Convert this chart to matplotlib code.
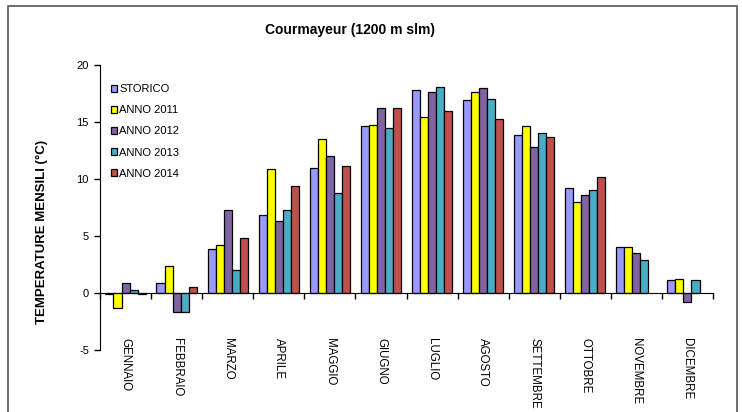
import matplotlib
matplotlib.use("Agg")
import matplotlib.pyplot as plt
import numpy as np
from matplotlib.patches import Rectangle
from matplotlib.transforms import blended_transform_factory

plt.rcParams['font.family'] = ['Liberation Sans', 'DejaVu Sans']

months = ["GENNAIO", "FEBBRAIO", "MARZO", "APRILE", "MAGGIO", "GIUGNO",
          "LUGLIO", "AGOSTO", "SETTEMBRE", "OTTOBRE", "NOVEMBRE", "DICEMBRE"]
series_names = ["STORICO", "ANNO 2011", "ANNO 2012", "ANNO 2013", "ANNO 2014"]
storico = [-0.1, 0.9, 3.85, 6.85, 11.0, 14.65, 17.85, 16.9, 13.9, 9.2, 4.05, 1.1]
anno2011 = [-1.3, 2.4, 4.2, 10.9, 13.55, 14.75, 15.4, 17.6, 14.65, 8.0, 4.05, 1.2]
anno2012 = [0.85, -1.7, 7.3, 6.3, 12.05, 16.25, 17.6, 18.0, 12.8, 8.6, 3.55, -0.75]
anno2013 = [0.25, -1.7, 2.0, 7.3, 8.8, 14.5, 18.1, 17.0, 14.0, 9.0, 2.9, 1.1]
anno2014 = [-0.1, 0.55, 4.85, 9.4, 11.1, 16.25, 16.0, 15.25, 13.7, 10.2, np.nan, np.nan]
colors = ["#9999FF", "#FFFF00", "#8064A2", "#4BACC6", "#C0504D"]
yticks = [-5, 0, 5, 10, 15, 20]

data = [storico, anno2011, anno2012, anno2013, anno2014]

fig = plt.figure(figsize=(7.42, 4.12), dpi=100)
fig.patch.set_facecolor("white")
fig.patches.append(Rectangle((8/742, -0.1), (737-8)/742, 1.1 - 6/412,
                             transform=fig.transFigure, fill=False,
                             edgecolor="#555555", linewidth=1.2))

ax = fig.add_axes([100/742, 1 - 350/412, (713-100)/742, (350-65)/412])
n = len(months)
x = np.arange(n)
w = 0.158
handles = []
for i, (vals, c, name) in enumerate(zip(data, colors, series_names)):
    b = ax.bar(x + (i - 2) * w, vals, width=w, color=c, edgecolor="black",
               linewidth=0.9, label=name)
    handles.append(b)

ax.set_xlim(-0.5, n - 0.5)
ax.set_ylim(-5, 20)
ax.set_yticks(yticks)
ax.set_yticklabels([str(t) for t in yticks], fontsize=8)
ax.spines['top'].set_visible(False)
ax.spines['right'].set_visible(False)
ax.spines['bottom'].set_position(('data', 0))
ax.set_xticks(np.arange(n + 1) - 0.5)
ax.set_xticklabels([])
ax.tick_params(axis='x', direction='out', length=4, width=1)
ax.tick_params(axis='y', direction='out', length=4, width=1, pad=4)

trans = blended_transform_factory(ax.transData, ax.transAxes)
for xi, m in zip(x, months):
    ax.text(xi, 0.042, m, rotation=270, ha='center', va='top',
            fontsize=8.3, transform=trans)

fig.text(42/742, 1 - 232/412, "TEMPERATURE MENSILI (°C)", rotation=90,
         ha='center', va='center', fontsize=9.5, fontweight='bold')
fig.text(350/742, 1 - 30/412, "Courmayeur (1200 m slm)", ha='center', va='center',
         fontsize=10, fontweight='bold')

leg = ax.legend(handles=handles, loc='upper left', bbox_to_anchor=(0.01, 0.948),
                frameon=False, fontsize=8, handlelength=0.6, handleheight=0.6,
                handletextpad=0.2, labelspacing=1.0, borderaxespad=0)

fig.savefig("out.png", dpi=100, facecolor="white")
